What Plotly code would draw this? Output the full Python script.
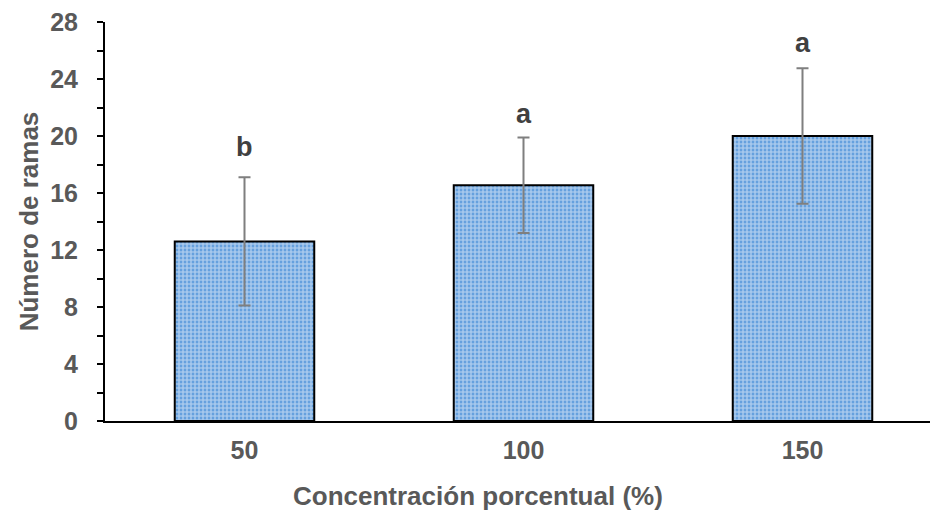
import plotly.graph_objects as go

categories = ["50", "100", "150"]
means = [12.6, 16.55, 20.0]
errors = [4.5, 3.35, 4.75]
letters = ["b", "a", "a"]
letter_y = [19.2, 21.55, 26.5]

FONT = "Liberation Sans, Arial, sans-serif"

fig = go.Figure()
fig.add_trace(go.Bar(
    x=categories, y=means, width=0.5,
    marker=dict(
        color="#4a8fd8",
        line=dict(color="black", width=2),
        pattern=dict(shape=".", fgcolor="white", bgcolor="#4a8fd8", size=4, solidity=0.75, fillmode="overlay"),
    ),
    error_y=dict(type="data", array=errors, visible=True, color="#7f7f7f", thickness=2, width=6),
))

for i, (l, ly) in enumerate(zip(letters, letter_y)):
    fig.add_annotation(x=i, y=ly, xref="x", yref="y", text=l, showarrow=False,
                       font=dict(family=FONT, size=27, color="#404040", weight="bold"))

tickfont = dict(family=FONT, size=25, color="#595959", weight="bold")
titlefont = dict(family=FONT, size=26, color="#595959", weight="bold")

fig.add_annotation(x=0.452, y=-0.188, xref="paper", yref="paper", text="Concentración porcentual (%)",
                   showarrow=False, xanchor="center", yanchor="middle", font=titlefont)

fig.update_layout(
    width=930, height=512,
    margin=dict(l=105, r=0, t=22, b=91),
    plot_bgcolor="white", paper_bgcolor="white",
    showlegend=False,
    xaxis=dict(type="category", range=[-0.5, 2.457], showline=True, linecolor="black", linewidth=2,
               ticks="", tickfont=tickfont, ticklabelstandoff=6),
    yaxis=dict(range=[0, 28], dtick=4, showline=True, linecolor="black", linewidth=2,
               ticks="outside", ticklen=6, tickcolor="black", tickwidth=1.5,
               minor=dict(dtick=2, ticks="outside", ticklen=6, tickcolor="black", tickwidth=1.5),
               showgrid=False, zeroline=False, tickfont=tickfont, ticklabelstandoff=14,
               title=dict(text="Número de ramas", font=titlefont, standoff=4)),
)

fig.write_html("out.html")
